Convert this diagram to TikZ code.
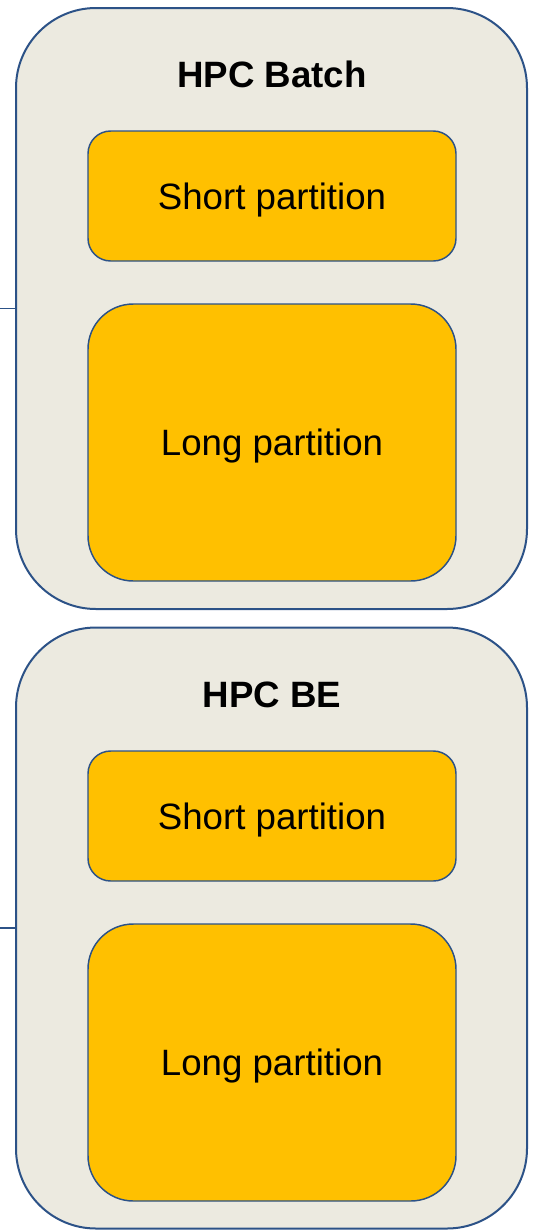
\documentclass[tikz,border=0pt]{standalone}
\usepackage{fontspec}
\setmainfont{Liberation Sans}
\tikzset{every picture/.style={line width=0.75pt}}
\tikzset{
  groupbox/.style={draw={rgb, 255:red, 44; green, 82; blue, 135}, fill={rgb, 255:red, 236; green, 234; blue, 224}, line width=1.5pt, rounded corners=60pt, minimum width=383.25pt, minimum height=450.75pt},
  partbox/.style={draw={rgb, 255:red, 44; green, 82; blue, 135}, fill={rgb, 255:red, 255; green, 192; blue, 0}, line width=1.1pt, minimum width=276pt, text depth=0pt, font=\fontsize{27.5}{33}\selectfont},
  grouptitle/.style={font=\fontsize{27.5}{33}\selectfont\bfseries},
  feedline/.style={draw={rgb, 255:red, 44; green, 82; blue, 135}, line width=1.1pt}
}
\begin{document}
\begin{tikzpicture}[x=0.75pt,y=0.75pt,yscale=-1,xscale=1]
	\useasboundingbox (0,0) rectangle (539,1232);

	%Shape: Rounded Rect [HPC Batch]
	\node [groupbox] (batch) at (271.5,308.5) {};
	\node [grouptitle] (batchtitle) at (272,74.5) {HPC Batch};
	\node [partbox, minimum height=97.5pt, rounded corners=17pt] (batchshort) at (272,196) {Short partition};
	\node [partbox, minimum height=207.75pt, rounded corners=34pt] (batchlong) at (272,442.5) {Long partition};

	%Shape: Rounded Rect [HPC BE]
	\node [groupbox] (be) at (271.5,928) {};
	\node [grouptitle] (betitle) at (272,694.5) {HPC BE};
	\node [partbox, minimum height=97.5pt, rounded corners=17pt] (beshort) at (272,816) {Short partition};
	\node [partbox, minimum height=207.75pt, rounded corners=34pt] (belong) at (272,1062.5) {Long partition};

	%Straight Lines
	\coordinate (batchin) at (0,308.5);
	\coordinate (bein) at (0,928);
	\draw [feedline] (batchin) -- (batch.west);
	\draw [feedline] (bein) -- (be.west);

\end{tikzpicture}
\end{document}
